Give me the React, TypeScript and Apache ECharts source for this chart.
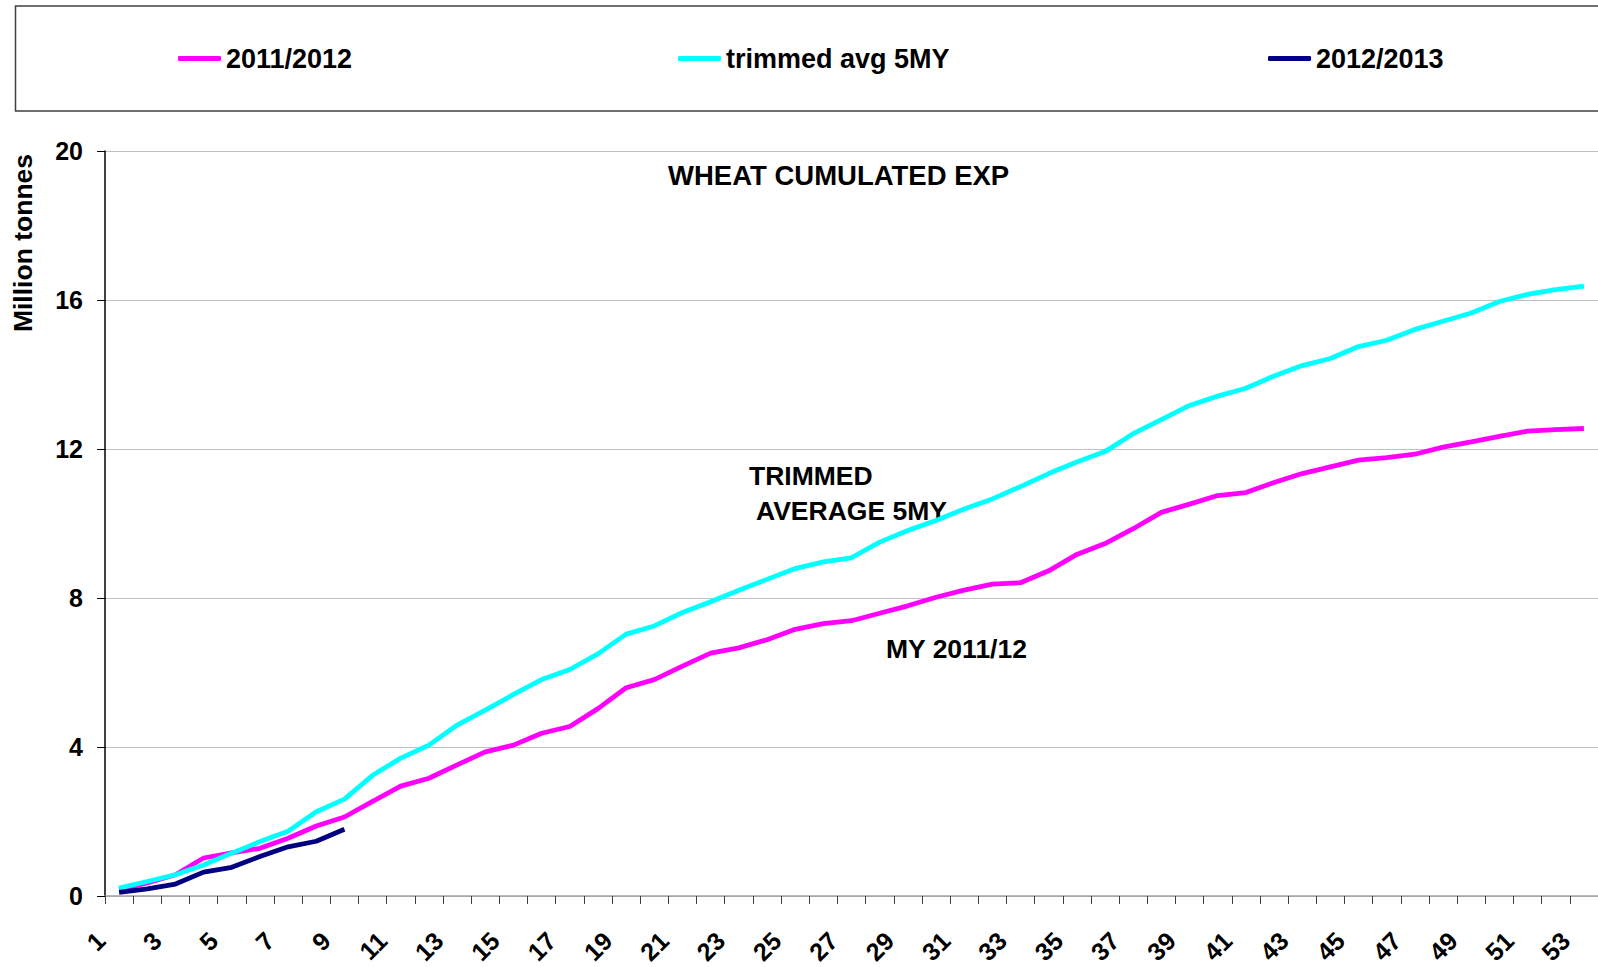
import React, { useEffect, useRef } from "react";
import * as echarts from "echarts";

const weeks = [
  "1", "2", "3", "4", "5", "6", "7", "8", "9", "10",
  "11", "12", "13", "14", "15", "16", "17", "18", "19", "20",
  "21", "22", "23", "24", "25", "26", "27", "28", "29", "30",
  "31", "32", "33", "34", "35", "36", "37", "38", "39", "40",
  "41", "42", "43", "44", "45", "46", "47", "48", "49", "50",
  "51", "52", "53",
];

const my2011 = [
  0.17, 0.35, 0.57, 1.02, 1.16, 1.28, 1.55, 1.88, 2.12, 2.54,
  2.95, 3.16, 3.52, 3.87, 4.05, 4.37, 4.55, 5.03, 5.59, 5.81,
  6.17, 6.52, 6.66, 6.88, 7.16, 7.31, 7.39, 7.59, 7.79, 8.02,
  8.21, 8.37, 8.41, 8.73, 9.17, 9.46, 9.86, 10.3, 10.52, 10.75,
  10.83, 11.1, 11.34, 11.52, 11.7, 11.77, 11.86, 12.05, 12.19, 12.34,
  12.48, 12.52, 12.55,
];

const trimmedAvg = [
  0.21, 0.39, 0.57, 0.83, 1.15, 1.46, 1.74, 2.26, 2.6, 3.24,
  3.7, 4.05, 4.59, 4.99, 5.41, 5.81, 6.08, 6.5, 7.03, 7.25,
  7.61, 7.9, 8.21, 8.5, 8.79, 8.97, 9.08, 9.5, 9.81, 10.08,
  10.39, 10.66, 10.99, 11.34, 11.65, 11.93, 12.41, 12.79, 13.17, 13.42,
  13.63, 13.96, 14.24, 14.43, 14.75, 14.92, 15.21, 15.43, 15.65, 15.96,
  16.15, 16.28, 16.37,
];

const my2012 = [0.1, 0.19, 0.32, 0.64, 0.77, 1.06, 1.32, 1.47, 1.79];

const seriesNames = ["2011/2012", "trimmed avg 5MY", "2012/2013"];
const seriesColors = ["#FF00FF", "#00FFFF", "#000080"];
const seriesData = [my2011, trimmedAvg, my2012];

const yMin = 0;
const yMax = 20;
const yStep = 4;

const chartTitle = "WHEAT CUMULATED EXP";
const yAxisName = "Million tonnes";
const notes = ["TRIMMED", "AVERAGE 5MY", "MY 2011/12"];

export default function App() {
  const ref = useRef<HTMLDivElement>(null);

  useEffect(() => {
    if (!ref.current) return;
    const chart = echarts.init(ref.current, null, { renderer: "svg" });
    const font = "'Liberation Sans', Arial, Helvetica, sans-serif";
    const legendLefts = [178, 678, 1268];

    chart.setOption({
      animation: false,
      backgroundColor: "#ffffff",
      textStyle: { fontFamily: font },
      title: {
        text: chartTitle,
        left: 668,
        top: 161,
        padding: 0,
        textStyle: { fontSize: 27.5, fontWeight: "bold", color: "#000", fontFamily: font },
      },
      legend: seriesNames.map((n, i) => ({
        data: [n],
        left: legendLefts[i],
        top: 45,
        padding: 0,
        itemWidth: 43,
        itemHeight: 5,
        itemGap: 0,
        icon: "roundRect",
        selectedMode: false,
        textStyle: { fontSize: 27, fontWeight: "bold", color: "#000", fontFamily: font },
      })),
      graphic: [
        {
          type: "rect",
          z: -1,
          shape: { x: 15.5, y: 6, width: 1600, height: 105 },
          style: { fill: "none", stroke: "#404040", lineWidth: 1.5 },
        },
        {
          type: "text",
          x: 23,
          y: 243,
          rotation: Math.PI / 2,
          style: {
            text: yAxisName,
            font: `bold 26.5px ${font}`,
            fill: "#000",
            align: "center",
            verticalAlign: "middle",
          },
        },
        {
          type: "text",
          x: 749,
          y: 476,
          style: { text: notes[0], font: `bold 26.5px ${font}`, fill: "#000", align: "left", verticalAlign: "middle" },
        },
        {
          type: "text",
          x: 756,
          y: 511,
          style: { text: notes[1], font: `bold 26.5px ${font}`, fill: "#000", align: "left", verticalAlign: "middle" },
        },
        {
          type: "text",
          x: 886,
          y: 649,
          style: { text: notes[2], font: `bold 26.5px ${font}`, fill: "#000", align: "left", verticalAlign: "middle" },
        },
      ],
      grid: { left: 105, right: 0, top: 151, bottom: 66, containLabel: false },
      xAxis: {
        type: "category",
        data: weeks,
        boundaryGap: true,
        axisLine: { show: true, lineStyle: { color: "#a0a0a0", width: 1.5 } },
        axisTick: { show: true, interval: 0, length: 8, lineStyle: { color: "#404040", width: 1 } },
        axisLabel: {
          interval: 1,
          rotate: 45,
          margin: 22,
          padding: [0, 26, 0, 0],
          fontSize: 25,
          fontWeight: "bold",
          color: "#000",
          fontFamily: font,
        },
        splitLine: { show: false },
      },
      yAxis: {
        type: "value",
        min: yMin,
        max: yMax,
        interval: yStep,
        axisLine: { show: true, lineStyle: { color: "#000", width: 1.5 } },
        axisTick: { show: true, length: 8, lineStyle: { color: "#000", width: 1 } },
        axisLabel: { fontSize: 25, fontWeight: "bold", color: "#000", margin: 22, fontFamily: font },
        splitLine: { show: true, lineStyle: { color: "#c0c0c0", width: 1 } },
      },
      series: seriesNames.map((n, i) => ({
        name: n,
        type: "line",
        data: seriesData[i],
        showSymbol: false,
        symbol: "none",
        color: seriesColors[i],
        itemStyle: { color: seriesColors[i] },
        lineStyle: { color: seriesColors[i], width: 4.8 },
      })),
    });

    return () => {
      chart.dispose();
    };
  }, []);

  return (
    <div
      ref={ref}
      style={{ position: "absolute", left: 0, top: 0, width: 1598, height: 967 }}
    />
  );
}
